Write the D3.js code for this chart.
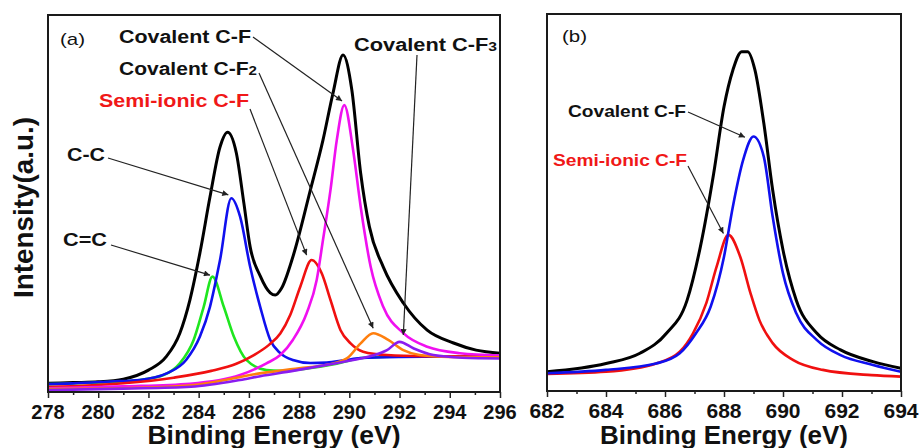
<!DOCTYPE html>
<html>
<head>
<meta charset="utf-8">
<script src="https://cdnjs.cloudflare.com/ajax/libs/d3/7.8.5/d3.min.js"></script>
<style>
body { margin: 0; background: #fff; }
svg { display: block; font-family: Arial, "Liberation Sans", sans-serif; }
</style>
</head>
<body>
<svg id="fig" width="922" height="448"></svg>
<script>
// ---- data: [binding energy (eV), intensity (a.u., 0-100)] ----
// panel (a) C 1s
const sumA = [[278,2.3],[279,2.5],[280,2.7],[281,3.4],[282,5.8],[282.7,9.3],[283.25,15.6],[283.65,24.4],[284.05,36.9],[284.45,51.7],[284.85,65],[285.15,68.9],[285.5,63.4],[285.8,50.1],[286.05,38.5],[286.45,30.8],[286.85,26.3],[287.05,25.7],[287.3,27.5],[287.75,35.8],[288.45,53.6],[288.95,66.8],[289.35,79.3],[289.75,89.4],[290.1,80.1],[290.45,58.1],[290.8,43.8],[291.35,33.2],[292.15,23.6],[293.1,16.4],[294.15,13],[295.05,11.1],[296,10.3]];
const ccA = [[278,2.1],[279,2.3],[280.5,2.8],[281.65,3.2],[282.75,5],[283.5,8.5],[284.05,14.7],[284.45,22.6],[284.85,35],[285.3,51.4],[285.65,46.5],[286.05,33.2],[286.45,22.6],[286.85,13.8],[287.25,10.3],[287.75,8.5],[288.45,7.7],[289.1,7.8],[289.8,8.4],[290.45,9],[292,9.3],[294,9.4],[296,9.4]];
const cdcA = [[278,2.1],[280,2.5],[281.65,3.2],[282.6,4.5],[283.25,7.6],[283.8,13.8],[284.2,22.6],[284.55,30.6],[285,22.6],[285.4,14.7],[285.9,8.5],[286.7,5.8],[287.25,5.6],[288.4,6.3],[289.5,7.5],[290.5,9],[292,9.4],[296,9.4]];
const semiA = [[278,1.3],[281,2.3],[283,3.8],[284.5,5.6],[285.5,7.5],[286.2,9.8],[286.8,12.5],[287.25,15.5],[287.65,20.5],[288.05,28],[288.5,35],[288.9,31.5],[289.25,24.4],[289.65,16.4],[290.05,12.9],[290.55,10.7],[291.5,9.8],[293,9.5],[296,9.4]];
const cfA = [[278,1],[281,1.5],[283.65,2.2],[285.65,4.5],[286.7,7.6],[287.25,9.8],[287.75,13.8],[288.3,20.9],[288.7,29.7],[288.95,40.3],[289.25,53.6],[289.5,66.8],[289.8,76.1],[290.15,64.2],[290.45,49.2],[290.85,33.2],[291.35,22.6],[292.15,15.6],[293.1,12],[294.4,10.3],[296,9.7]];
const cf2A = [[278,0.8],[282,1.2],[284,2],[286.5,5],[288,6.3],[289.1,7.2],[289.9,8.9],[290.45,12.9],[290.95,15.6],[291.55,13.8],[292.15,11.1],[292.8,9.8],[294,9.3],[296,9.2]];
const cf3A = [[278,0.5],[281,0.9],[283.7,1.4],[285.65,3.2],[286.45,4.2],[287.75,5.6],[289.1,7.2],[290.45,8.9],[291,9.8],[291.5,11.1],[292,13.3],[292.55,11.6],[293.35,9.8],[294.5,9.1],[296,8.9]];

// panel (b) F 1s
const sumB = [[682,5.1],[684,7.3],[685.15,10],[686.05,15.3],[686.75,24.1],[687.2,38.3],[687.65,57.7],[688,75.4],[688.3,85.1],[688.6,90],[688.8,90],[689.05,85.1],[689.35,71],[689.65,53.3],[690,37.4],[690.45,24.1],[691.15,15.3],[691.95,10.9],[693.05,7.8],[694,6]];
const covB = [[682,4.7],[684,5.6],[685.7,7.3],[686.5,10],[687.05,15.3],[687.55,22.4],[688,35.6],[688.3,48.9],[688.65,61.3],[689,67.5],[689.35,62.1],[689.65,46.2],[690,31.2],[690.45,20.6],[691.15,13.5],[691.95,9.5],[693.05,6.9],[694,5.1]];
const semiB = [[682,4.5],[684,5.1],[685.7,7.3],[686.5,10.4],[686.95,15.3],[687.4,23.3],[687.75,33],[688.15,41.4],[688.55,35.6],[688.9,25.9],[689.2,18.8],[689.65,12.7],[690.35,8.2],[691.35,5.6],[693,4.2],[694,3.8]];

const ticksA = [278,280,282,284,286,288,290,292,294,296];
const ticksB = [682,684,686,688,690,692,694];

// annotation labels and the point (eV, intensity) each arrow points to
const labelsA = ["Covalent C-F", "Covalent C-F|2", "Semi-ionic C-F", "Covalent C-F|3", "C-C", "C=C"];
const targetsA = [[289.71,77.2],[290.95,16.9],[288.3,36.3],[292.15,15.1],[285.18,52.3],[284.45,31.0]];
const labelsB = ["Covalent C-F", "Semi-ionic C-F"];
const targetsB = [[688.71,67.3],[687.98,41.8]];

const svg = d3.select("#fig");

svg.append("defs").append("marker")
  .attr("id", "arr")
  .attr("viewBox", "0 0 10 10")
  .attr("refX", 10).attr("refY", 5)
  .attr("markerWidth", 7).attr("markerHeight", 6)
  .attr("markerUnits", "userSpaceOnUse")
  .attr("orient", "auto")
  .append("path").attr("d", "M0,0L10,5L0,10z").attr("fill", "#222");

function drawPanel(p) {
  var x = d3.scaleLinear().domain(p.xDomain).range([p.left, p.right]);
  var y = d3.scaleLinear().domain([0, 100]).range([p.bottom, p.top]);
  var g = svg.append("g");

  g.append("clipPath").attr("id", "clip" + p.id)
    .append("rect")
    .attr("x", p.left).attr("y", p.top)
    .attr("width", p.right - p.left).attr("height", p.bottom - p.top);

  var line = d3.line()
    .x(function(d) { return x(d[0]); })
    .y(function(d) { return y(d[1]); })
    .curve(d3.curveMonotoneX);

  var curves = g.append("g").attr("clip-path", "url(#clip" + p.id + ")");
  p.series.forEach(function(s) {
    curves.append("path")
      .attr("d", line(s.data))
      .attr("fill", "none")
      .attr("stroke", s.color)
      .attr("stroke-width", s.w)
      .attr("stroke-linejoin", "round");
  });

  // frame
  g.append("rect")
    .attr("x", p.left).attr("y", p.top)
    .attr("width", p.right - p.left).attr("height", p.bottom - p.top)
    .attr("fill", "none").attr("stroke", "#1a1a1a").attr("stroke-width", 2);

  // minor ticks
  var minor = d3.range(p.xDomain[0] + 1, p.xDomain[1], 2);
  g.append("g")
    .attr("transform", "translate(0," + p.bottom + ")")
    .call(d3.axisBottom(x).tickValues(minor).tickSize(3).tickFormat(""))
    .call(function(a) { a.select(".domain").remove(); })
    .selectAll("line").attr("stroke", "#222").attr("stroke-width", 1.5);

  // major ticks
  var ax = g.append("g")
    .attr("transform", "translate(0," + p.bottom + ")")
    .call(d3.axisBottom(x).tickValues(p.ticks).tickSize(6).tickFormat(""));
  ax.select(".domain").remove();
  ax.selectAll("line").attr("stroke", "#222").attr("stroke-width", 1.5);

  // tick labels
  g.append("g").selectAll("text")
    .data(p.ticks)
    .join("text")
    .attr("x", function(d) { return x(d); })
    .attr("y", p.bottom + 27)
    .attr("text-anchor", "middle")
    .style("font-size", p.tickFont + "px").style("font-weight", "bold")
    .attr("fill", "#111")
    .text(function(d) { return d; });

  // x title
  g.append("text")
    .attr("x", (p.left + p.right) / 2).attr("y", 444)
    .attr("text-anchor", "middle")
    .attr("textLength", p.titleLen).attr("lengthAdjust", "spacingAndGlyphs")
    .style("font-size", "25px").style("font-weight", "bold").attr("fill", "#111")
    .text("Binding Energy (eV)");

  // panel tag
  g.append("text")
    .attr("x", p.tag.x).attr("y", p.tag.y)
    .attr("textLength", 25).attr("lengthAdjust", "spacingAndGlyphs")
    .style("font-size", "17px").attr("fill", "#111")
    .text(p.tag.text);

  // annotations
  p.labels.forEach(function(lab, i) {
    var pos = p.labelPos[i];
    var parts = lab.split("|");
    var t = g.append("text")
      .attr("x", pos.x).attr("y", pos.y)
      .attr("textLength", pos.len).attr("lengthAdjust", "spacingAndGlyphs")
      .style("font-size", p.labelFont + "px").style("font-weight", "bold")
      .attr("fill", pos.color || "#111");
    t.append("tspan").text(parts[0]);
    if (parts[1]) t.append("tspan").style("font-size", (p.labelFont * 0.72) + "px").text(parts[1]);
    var tg = p.targets[i];
    g.append("line")
      .attr("x1", pos.ax).attr("y1", pos.ay)
      .attr("x2", x(tg[0])).attr("y2", y(tg[1]))
      .attr("stroke", "#222").attr("stroke-width", 1.2)
      .attr("marker-end", "url(#arr)");
  });
}

drawPanel({
  id: "a", xDomain: [278, 296], ticks: ticksA,
  left: 48, right: 500, top: 15, bottom: 392,
  tickFont: 20, titleLen: 253, labelFont: 18,
  tag: { text: "(a)", x: 60, y: 45 },
  series: [
    { data: sumA, color: "#000000", w: 3 },
    { data: cdcA, color: "#1fe61f", w: 2.6 },
    { data: ccA, color: "#1010ee", w: 2.6 },
    { data: semiA, color: "#f01010", w: 2.6 },
    { data: cfA, color: "#f010f0", w: 2.6 },
    { data: cf2A, color: "#ff7f0e", w: 2.6 },
    { data: cf3A, color: "#8a1cf0", w: 2.6 }
  ],
  labels: labelsA,
  targets: targetsA,
  labelPos: [
    { x: 119, y: 43, len: 132, ax: 253, ay: 37 },
    { x: 119, y: 75, len: 138, ax: 259, ay: 73 },
    { x: 99, y: 107, len: 150, ax: 250, ay: 109, color: "#f01818" },
    { x: 354, y: 51, len: 143, ax: 417, ay: 55 },
    { x: 67, y: 161, len: 38, ax: 108, ay: 158 },
    { x: 63, y: 246, len: 44, ax: 111, ay: 245 }
  ]
});

drawPanel({
  id: "b", xDomain: [682, 694], ticks: ticksB,
  left: 547, right: 901, top: 14, bottom: 391,
  tickFont: 21, titleLen: 248, labelFont: 17,
  tag: { text: "(b)", x: 562, y: 42 },
  series: [
    { data: sumB, color: "#000000", w: 3 },
    { data: semiB, color: "#f01010", w: 2.6 },
    { data: covB, color: "#1010ee", w: 2.6 }
  ],
  labels: labelsB,
  targets: targetsB,
  labelPos: [
    { x: 568, y: 117, len: 118, ax: 688, ay: 112 },
    { x: 553, y: 166, len: 134, ax: 688, ay: 166, color: "#f01818" }
  ]
});

// y title
svg.append("text")
  .attr("transform", "translate(33,207.5) rotate(-90)")
  .attr("text-anchor", "middle")
  .attr("textLength", 181).attr("lengthAdjust", "spacingAndGlyphs")
  .style("font-size", "27px").style("font-weight", "bold").attr("fill", "#111")
  .text("Intensity(a.u.)");
</script>
</body>
</html>
